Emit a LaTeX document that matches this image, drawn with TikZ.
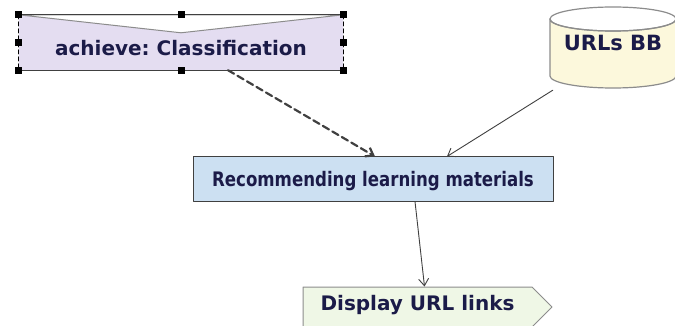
\documentclass[tikz,border=0pt]{standalone}
\usepackage{fontspec}
\setmainfont{DejaVu Sans}
\newfontfamily\narrowfont[FakeStretch=0.83]{DejaVu Sans}
\usetikzlibrary{arrows.meta,calc,positioning,shapes.symbols}
\definecolor{kbLavender}{HTML}{E4DDF1}
\definecolor{kbCream}{HTML}{FCF8DC}
\definecolor{kbSky}{HTML}{CCE0F2}
\definecolor{kbMint}{HTML}{EFF7E6}
\definecolor{kbInk}{HTML}{1B1B48}
\definecolor{kbLine}{HTML}{404040}
\definecolor{kbGrey}{HTML}{8C8C8C}
\begin{document}
\frenchspacing
\begin{tikzpicture}[x=1pt,y=-1pt,>={Straight Barb[length=7pt,width=10pt]},line cap=round,line join=round]
\clip (0,0) rectangle (675,326);
\path[fill=white] (0,0) rectangle (675,326);
\tikzset{label/.style={text=kbInk,font=\bfseries\fontsize{20}{24}\selectfont,text height=15pt,text depth=0pt},goalbox/.style={label,fill=kbLavender,minimum width=324pt,minimum height=55pt,text height=26pt},taskbox/.style={label,font=\narrowfont\bfseries\fontsize{20}{24}\selectfont,draw=kbLine,fill=kbSky,line width=1pt,minimum width=360pt,minimum height=44pt},outbox/.style={label,signal,signal to=east,signal pointer angle=90,draw=kbGrey,fill=kbMint,line width=1pt,minimum width=249pt,minimum height=40pt,text depth=8pt},link/.style={draw=kbLine,line width=0.9pt,->},handle/.style={fill=black}}
% goal with selection handles
\node[goalbox] (goal) at (181,42.5) {achieve: Classification};
\path[fill=white,draw=kbGrey,line width=1pt] (goal.north west) -- ($(goal.north)+(0,18)$) -- (goal.north east) -- cycle;
\draw[kbLine,line width=1.2pt] (goal.north west) -- (goal.north east) (goal.south west) -- (goal.south east);
\draw[black,line width=1pt,dash pattern=on 4pt off 3pt] (goal.north west) -- (goal.south west) (goal.north east) -- (goal.south east);
\foreach \a in {north west,north,north east,east,south east,south,south west,west} \fill[handle] (goal.\a) +(-3.5,-3.5) rectangle +(3.5,3.5);
% data store
\path[fill=kbCream,draw=kbGrey,line width=1.2pt] (550,19) -- (550,76) arc (180:0:63 and 12) -- (676,19) arc (0:180:63 and 12) -- cycle;
\draw[kbGrey,line width=1.2pt] (613,19) ellipse (63 and 12);
\node[label,font=\bfseries\fontsize{21}{24}\selectfont,minimum width=126pt,minimum height=89pt,inner sep=0pt] (urls) at (613,43.5) {URLs BB};
\node[taskbox] (task) at (373,179) {Recommending learning materials};
\node[outbox] (display) at (417.5,307) {Display URL links};
\draw[link,line width=2.2pt,dash pattern=on 7pt off 4pt] ([xshift=47pt]goal.south) -- ([xshift=2pt]task.north);
\draw[link] ([xshift=3pt,yshift=-2pt]urls.south west) -- ([xshift=74pt]task.north);
\draw[link] ([xshift=42pt]task.south) -- ([xshift=7pt]display.north);
\end{tikzpicture}
\end{document}
